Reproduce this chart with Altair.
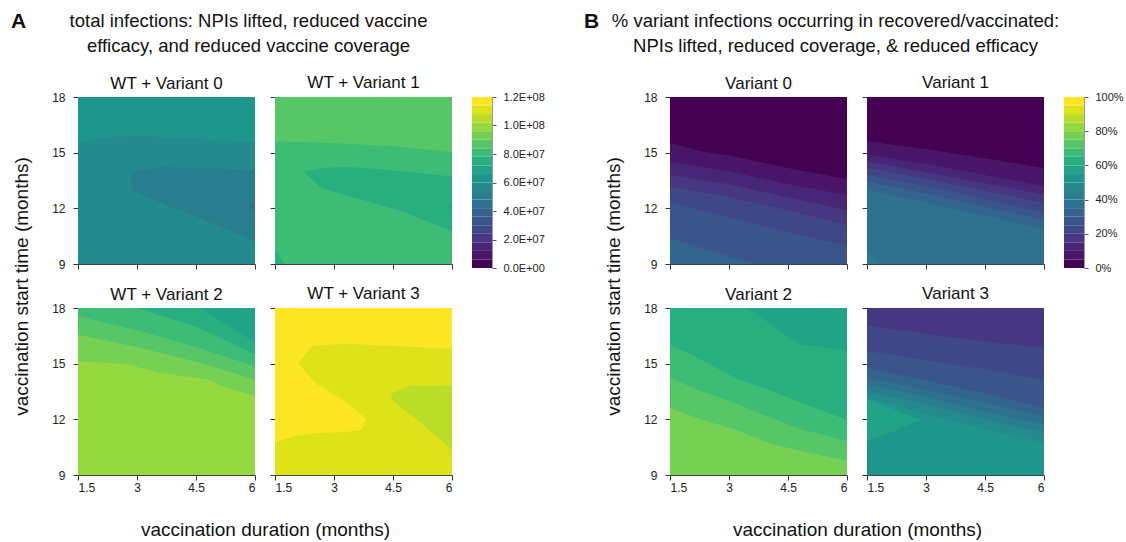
import altair as alt
import pandas as pd

# 20-step viridis palette used for every filled-contour band
VIRIDIS20 = ["#440154", "#481568", "#482677", "#453781", "#3F4788",
             "#39558C", "#32648E", "#2D718E", "#287D8E", "#238A8D",
             "#1F968B", "#20A386", "#29AF7F", "#3CBC75", "#56C667",
             "#75D054", "#95D840", "#BADE28", "#DDE318", "#FDE725"]

DUR_TICKS = [1.5, 3, 4.5, 6]
START_TICKS = [9, 12, 15, 18]
DUR_MIN, DUR_MAX = 1.5, 6.0
START_MIN, START_MAX = 9.0, 18.0

INFECT_STEP = 6e6          # one band = 6 million infections
INFECT_TICKS = [0, 2e7, 4e7, 6e7, 8e7, 1e8, 1.2e8]
PCT_STEP = 5               # one band = 5 %
PCT_TICKS = [0, 20, 40, 60, 80, 100]

# Each region: (band, duration points, lower start-time edge, upper edge or None = top)
# --- total infections ---
wt_v0_base = 9
wt_v0 = [
    (10, [1.5, 2.0, 2.35, 3.2, 4.47, 6.0], [15.52, 15.75, 15.84, 15.88, 15.74, 15.56], None),
    (8, [2.86, 3.62, 4.47, 5.32, 6.0], [13.0, 12.29, 11.57, 10.85, 10.22], [14.0, 14.21, 14.18, 14.12, 14.05]),
    (7, [5.83, 6.0], [12.05, 11.8], [12.05, 12.3]),
]
wt_v1_base = 13
wt_v1 = [
    (14, [1.5, 2.85, 4.55, 6.0], [15.61, 15.52, 15.34, 15.02], None),
    (12, [2.22, 2.68, 3.11, 3.7, 4.71, 6.0], [13.99, 13.1, 12.83, 12.47, 11.84, 10.76],
     [13.99, 14.15, 14.23, 14.2, 14.0, 13.72]),
    (12, [1.5, 1.75], [9.0, 9.0], [9.77, 9.0]),
    (11, [5.9, 6.0], [12.1, 11.85], [12.1, 12.35]),
]
wt_v2_base = 16
wt_v2 = [
    (15, [1.5, 2.68, 3.61, 4.8, 5.05, 6.0], [15.13, 14.99, 14.5, 14.15, 13.88, 13.25], None),
    (14, [1.5, 3.0, 4.5, 6.0], [16.57, 15.9, 15.1, 14.15], None),
    (13, [1.5, 3.0, 4.5, 6.0], [17.55, 16.8, 15.9, 14.86], None),
    (12, [2.98, 4.5, 6.0], [18.0, 17.0, 15.5], None),
    (11, [4.59, 5.3, 6.0], [18.0, 17.1, 16.12], None),
]
wt_v3_base = 18
wt_v3 = [
    (19, [1.5, 2.08, 2.47, 3.28, 6.0], [15.04, 15.04, 15.97, 16.08, 15.81], None),
    (19, [1.5, 2.0, 2.08, 2.52, 3.19, 3.4, 3.7, 3.83],
     [10.77, 11.1, 11.12, 11.25, 11.3, 11.35, 11.42, 12.0],
     [15.04, 15.04, 15.04, 13.97, 13.07, 12.8, 12.24, 12.0]),
    (17, [4.44, 4.5, 4.88, 5.01, 6.0], [13.16, 13.0, 12.36, 12.15, 10.38],
     [13.16, 13.43, 13.75, 13.82, 13.79]),
]

# --- % of variant infections in recovered/vaccinated ---
pv_v0_base = 6
pv_v0 = [
    (5, [1.5, 2.71, 3.73, 6.0], [10.43, 9.59, 9.0, 9.0], None),
    (4, [1.5, 3.0, 4.5, 6.0], [12.32, 11.5, 10.7, 10.0], None),
    (3, [1.5, 3.0, 4.5, 6.0], [13.19, 12.6, 11.9, 11.1], None),
    (2, [1.5, 3.0, 4.5, 6.0], [13.81, 13.3, 12.6, 11.9], None),
    (1, [1.5, 3.0, 4.5, 6.0], [14.53, 14.0, 13.3, 12.72], None),
    (0, [1.5, 2.29, 3.14, 4.49, 5.85, 6.0], [15.52, 15.07, 14.79, 14.17, 13.63, 13.6], None),
]
pv_v1_base = 7
pv_v1 = [
    (8, [1.5, 1.94], [9.0, 9.0], [9.6, 9.0]),
    (6, [1.5, 3.0, 4.5, 6.0], [13.0, 12.3, 11.6, 10.9], None),
    (5, [1.5, 3.0, 4.5, 6.0], [13.45, 12.8, 12.1, 11.39], None),
    (4, [1.5, 3.0, 4.5, 6.0], [13.81, 13.2, 12.5, 11.75], None),
    (3, [1.5, 3.0, 4.5, 6.0], [14.17, 13.6, 12.95, 12.29], None),
    (2, [1.5, 3.0, 4.5, 6.0], [14.53, 13.95, 13.35, 12.74], None),
    (1, [1.5, 3.0, 4.5, 6.0], [14.89, 14.4, 13.8, 13.2], None),
    (0, [1.5, 3.0, 4.5, 6.0], [15.61, 15.2, 14.7, 14.17], None),
]
pv_v2_base = 15
pv_v2 = [
    (14, [1.5, 2.29, 3.14, 3.98, 4.83, 5.85, 6.0], [12.62, 11.99, 11.46, 10.74, 10.29, 9.84, 9.78], None),
    (13, [1.5, 2.29, 3.14, 3.98, 4.83, 5.85, 6.0], [14.24, 13.52, 12.89, 12.17, 11.46, 10.92, 10.85], None),
    (12, [1.5, 2.29, 3.14, 3.98, 4.83, 5.85, 6.0], [16.03, 15.22, 14.24, 13.61, 12.89, 12.08, 11.95], None),
    (11, [3.47, 4.49, 4.83, 5.85, 6.0], [18.0, 16.48, 16.03, 15.76, 15.7], None),
]
pv_v3_base = 10
pv_v3 = [
    (11, [1.5, 2.0, 2.87], [10.83, 11.2, 11.99], [13.07, 12.7, 11.99]),
    (9, [1.5, 3.0, 4.5, 6.0], [13.16, 12.3, 11.5, 10.74], None),
    (8, [1.5, 3.0, 4.5, 6.0], [13.52, 12.8, 12.0, 11.28], None),
    (7, [1.5, 3.0, 4.5, 6.0], [13.88, 13.2, 12.4, 11.73], None),
    (6, [1.5, 3.0, 4.5, 6.0], [14.24, 13.6, 12.9, 12.17], None),
    (5, [1.5, 3.0, 4.5, 6.0], [14.77, 14.1, 13.4, 12.62], None),
    (4, [1.5, 3.0, 4.5, 6.0], [15.67, 15.2, 14.7, 14.14], None),
    (3, [1.5, 3.0, 4.5, 6.0], [17.1, 16.6, 16.2, 15.85], None),
]

FONT = "Liberation Sans"
W, H = 177, 167
CB_W, CB_H = 20, 171
GAP_W = 138

XSCALE = alt.Scale(domain=[DUR_MIN, DUR_MAX], nice=False, zero=False)
YSCALE = alt.Scale(domain=[START_MIN, START_MAX], nice=False, zero=False)
CSCALE = alt.Scale(domain=list(range(20)), range=VIRIDIS20)

AXIS_STYLE = dict(grid=False, tickSize=5, tickColor="#333", domainColor="#444",
                  labelFont=FONT, labelFontSize=12, labelColor="#222",
                  titleFont=FONT, titleFontSize=19, titleFontWeight="normal",
                  titleColor="#111", labelExpr="datum.value + ''")


def contour_panel(title, base, regions, x_labels, y_labels, y_title=None, x_title=None):
    x_axis = dict(values=DUR_TICKS, labels=x_labels, labelPadding=2, **AXIS_STYLE)
    y_axis = dict(values=START_TICKS, labels=y_labels, labelPadding=8, **AXIS_STYLE)
    if x_title:
        x_axis.update(title=x_title, titleX=W + 10, titleY=60, titleBaseline="alphabetic")
    else:
        x_axis.update(title="")
    if y_title:
        y_axis.update(title=y_title, titleX=-57, titleY=H + 22, titleBaseline="middle")
    else:
        y_axis.update(title="")

    # every layer carries the same axis definition so the shared axes merge cleanly
    def xenc(field):
        return alt.X(field, type="quantitative", scale=XSCALE, axis=alt.Axis(**x_axis))

    def yenc(field):
        return alt.Y(field, type="quantitative", scale=YSCALE, axis=alt.Axis(**y_axis))

    color = alt.Color("band:O", scale=CSCALE, legend=None)

    bg_df = pd.DataFrame({"dur": [DUR_MIN], "dur2": [DUR_MAX], "lo": [START_MIN],
                          "hi": [START_MAX], "band": [base]})
    layers = [alt.Chart(bg_df).mark_rect().encode(
        x=xenc("dur"), x2="dur2", y=yenc("lo"), y2="hi", color=color)]
    for band, xs, lo, hi in regions:
        if hi is None:
            hi = [START_MAX] * len(xs)
        df = pd.DataFrame({"dur": xs, "lo": lo, "hi": hi, "band": [band] * len(xs)})
        layers.append(alt.Chart(df).mark_area(orient="vertical", clip=True).encode(
            x=xenc("dur"), y=yenc("lo"), y2="hi", color=color))
    # the top tick label of the labelled axis lifts the title; compensate so all line up
    title_offset = -2 if y_labels else 5
    return alt.layer(*layers).properties(
        width=W, height=H,
        title=alt.TitleParams(title, font=FONT, fontSize=17, fontWeight="normal",
                              color="#111", offset=title_offset))


def colorbar(step, ticks, label_expr):
    df = pd.DataFrame({"band": list(range(20)),
                       "lo": [k * step for k in range(20)],
                       "hi": [(k + 1) * step for k in range(20)],
                       "c0": [0] * 20, "c1": [1] * 20})
    return alt.Chart(df).mark_rect().encode(
        x=alt.X("c0:Q", scale=alt.Scale(domain=[0, 1], nice=False), axis=None),
        x2="c1:Q",
        y=alt.Y("lo:Q", scale=alt.Scale(domain=[0, 20 * step], nice=False),
                axis=alt.Axis(orient="right", values=ticks, labelExpr=label_expr,
                              title="", grid=False, tickSize=4, tickColor="#555",
                              domainColor="#999", labelFont=FONT, labelFontSize=11,
                              labelColor="#222", labelPadding=7)),
        y2="hi:Q",
        color=alt.Color("band:O", scale=CSCALE, legend=None),
    ).properties(width=CB_W, height=CB_H)


def blank(width, height, title=None):
    """Invisible cell that only reserves grid space (and may carry a heading)."""
    ch = alt.Chart(pd.DataFrame({"v": [0]})).mark_point(opacity=0).encode(
        x=alt.X("v:Q", axis=None), y=alt.Y("v:Q", axis=None)
    ).properties(width=width, height=height)
    if title is not None:
        ch = ch.properties(title=title)
    return ch


def heading(lines, dx):
    return alt.TitleParams(lines, font=FONT, fontSize=18.5, fontWeight="normal",
                           lineHeight=25, color="#111", anchor="middle", dx=dx, offset=-2)


def letter(text, dx):
    return alt.TitleParams(text, font=FONT, fontSize=21, fontWeight="bold",
                           color="#111", anchor="start", dx=dx, offset=22)


sci_expr = "replace(upper(format(datum.value, '.1e')), regexp('E\\\\+(\\\\d)$'), 'E+0$1')"
pct_expr = "datum.value + '%'"

ytitle = "vaccination start time (months)"
xtitle = "vaccination duration (months)"

cells = [
    # headings row
    blank(W, 1, letter("A", -67)),
    blank(W, 1, heading(["total infections: NPIs lifted, reduced vaccine",
                         "efficacy, and reduced vaccine coverage"], -115)),
    blank(CB_W, 1), blank(GAP_W, 1),
    blank(W, 1, letter("B", -86)),
    blank(W, 1, heading(["% variant infections occurring in recovered/vaccinated:",
                         "NPIs lifted, reduced coverage, & reduced efficacy"], -120)),
    blank(CB_W, 1),
    # first row of panels
    contour_panel("WT + Variant 0", wt_v0_base, wt_v0, False, True, y_title=ytitle),
    contour_panel("WT + Variant 1", wt_v1_base, wt_v1, False, False),
    colorbar(INFECT_STEP, INFECT_TICKS, sci_expr),
    blank(GAP_W, 1),
    contour_panel("Variant 0", pv_v0_base, pv_v0, False, True, y_title=ytitle),
    contour_panel("Variant 1", pv_v1_base, pv_v1, False, False),
    colorbar(PCT_STEP, PCT_TICKS, pct_expr),
    # second row of panels
    contour_panel("WT + Variant 2", wt_v2_base, wt_v2, True, True, x_title=xtitle),
    contour_panel("WT + Variant 3", wt_v3_base, wt_v3, True, False),
    blank(CB_W, 1), blank(GAP_W, 1),
    contour_panel("Variant 2", pv_v2_base, pv_v2, True, True, x_title=xtitle),
    contour_panel("Variant 3", pv_v3_base, pv_v3, True, False),
    blank(CB_W, 1),
]

chart = alt.concat(*cells, columns=7, spacing={"row": 40, "column": 20},
                   bounds="flush").properties(
    padding={"left": 10, "top": 10, "right": 0, "bottom": 0},
    background="white",
).configure_view(stroke="transparent")

chart.save("out.html", embed_options={"renderer": "svg", "actions": False})
